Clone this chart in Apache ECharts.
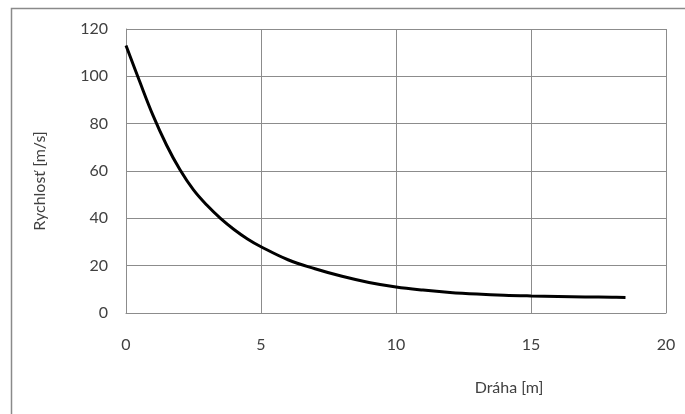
<!DOCTYPE html>
<html>
<head>
<meta charset="utf-8">
<script src="https://cdn.jsdelivr.net/npm/echarts@6/dist/echarts.min.js"></script>
<style>
html,body{margin:0;padding:0;background:#fff;}
#c{width:685px;height:414px;}
</style>
</head>
<body>
<div id="c"></div>
<script>
// Data
const distance = [0, 0.5, 1, 1.5, 2, 2.5, 3, 3.5, 4, 4.5, 5, 6, 7, 8, 9, 10, 11, 12, 13, 14, 15, 16, 17, 18, 18.5];
const speed    = [113, 98, 83.5, 71, 60.5, 52, 45.5, 40, 35.3, 31.3, 28, 22.5, 18.7, 15.5, 12.9, 11.0, 9.7, 8.7, 8.0, 7.5, 7.2, 7.0, 6.8, 6.7, 6.6];
const xTitle = 'Dráha [m]';
const yTitle = 'Rychlosť [m/s]';

const chart = echarts.init(document.getElementById('c'));
const FONT = 'Lato';
const TXT = '#404040';
const GRID = '#8c8c8c';
chart.setOption({
  animation: false,
  backgroundColor: '#fff',
  grid: { left: 126, top: 29, right: 19, bottom: 101, containLabel: false },
  xAxis: {
    type: 'value', min: 0, max: 20, interval: 5,
    axisLine: { show: true, lineStyle: { color: GRID, width: 1 } },
    axisTick: { show: false },
    splitLine: { show: true, lineStyle: { color: GRID, width: 1 } },
    axisLabel: { color: TXT, fontFamily: FONT, fontSize: 16, margin: 24 }
  },
  yAxis: {
    type: 'value', min: 0, max: 120, interval: 20,
    axisLine: { show: true, lineStyle: { color: GRID, width: 1 } },
    axisTick: { show: false },
    splitLine: { show: true, lineStyle: { color: GRID, width: 1 } },
    axisLabel: { color: TXT, fontFamily: FONT, fontSize: 16, margin: 18 }
  },
  graphic: [
    { type: 'rect', shape: { x: 11.5, y: 8.5, width: 700, height: 420 },
      style: { fill: 'none', stroke: '#8a8a8a', lineWidth: 1.5 }, silent: true },
    { type: 'text', x: 509, y: 388,
      style: { text: xTitle, fill: TXT, font: '16px ' + FONT, align: 'center', verticalAlign: 'middle' } },
    { type: 'text', x: 40, y: 181, rotation: Math.PI / 2,
      style: { text: yTitle, fill: TXT, font: '16px ' + FONT, align: 'center', verticalAlign: 'middle' } }
  ],
  series: [{
    type: 'line',
    data: distance.map((d, i) => [d, speed[i]]),
    smooth: 0.4,
    showSymbol: false,
    lineStyle: { color: '#000', width: 3 }
  }]
});
</script>
</body>
</html>
